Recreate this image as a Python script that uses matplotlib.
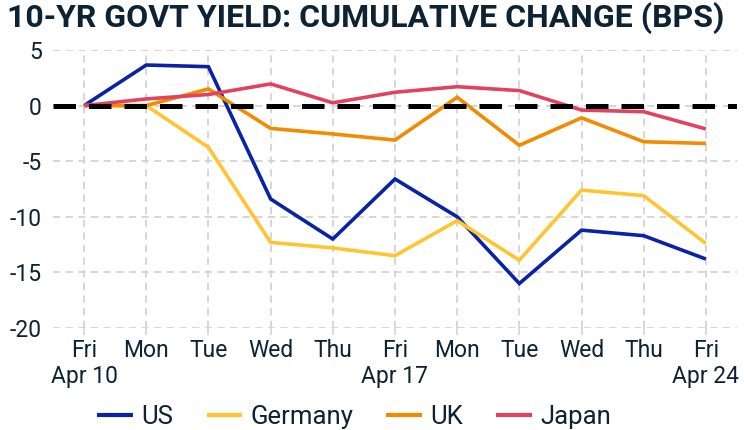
import matplotlib
matplotlib.use("Agg")
from matplotlib import pyplot as plt

plt.rcParams["font.family"] = ["Roboto", "DejaVu Sans"]

# Données (variation cumulée en points de base)
JOURS = ["Fri\nApr 10", "Mon", "Tue", "Wed", "Thu", "Fri\nApr 17",
         "Mon", "Tue", "Wed", "Thu", "Fri\nApr 24"]
US = [0, 3.65, 3.5, -8.4, -12.0, -6.6, -10.0, -16.0, -11.2, -11.7, -13.8]
GERMANY = [0, 0, -3.75, -12.3, -12.8, -13.5, -10.35, -13.9, -7.6, -8.1, -12.4]
UK = [0, 0, 1.5, -2.05, -2.55, -3.1, 0.75, -3.57, -1.1, -3.25, -3.4]
JAPAN = [0, 0.6, 1.0, 1.95, 0.25, 1.2, 1.7, 1.35, -0.4, -0.55, -2.1]
Y_TICKS = [5, 0, -5, -10, -15, -20]

SERIES = [
    ("US", US, "#0a22a5"),
    ("Germany", GERMANY, "#ffc530"),
    ("UK", UK, "#f28b00"),
    ("Japan", JAPAN, "#e3425f"),
]

TEXT_COLOR = "#0d2233"
GRID_COLOR = "#d3d3d3"

fig = plt.figure(figsize=(7.44, 4.30), dpi=100)
ax = fig.add_axes([0.0712, 0.2372, 0.9194, 0.6465])

x = list(range(len(JOURS)))
for nom, valeurs, couleur in SERIES:
    ax.plot(x, valeurs, color=couleur, lw=2.6, label=nom, zorder=3,
            solid_capstyle="butt", solid_joinstyle="miter")

# Ligne zéro en pointillés noirs
ax.axhline(0, color="black", lw=3.6, dashes=(4.5, 2.6), zorder=4)

ax.set_xlim(-0.5, len(JOURS) - 0.5)
ax.set_ylim(-20, 5)
ax.set_xticks(x)
ax.set_xticklabels(JOURS, fontsize=16.5, color=TEXT_COLOR, linespacing=1.15)
ax.set_yticks(Y_TICKS)
ax.set_yticklabels([str(v) for v in Y_TICKS], fontsize=16.5, color=TEXT_COLOR)

ax.grid(True, color=GRID_COLOR, linestyle=(0, (4, 3)), lw=1.3, zorder=0)
for spine in ax.spines.values():
    spine.set_visible(False)
ax.tick_params(axis="x", length=5, color=GRID_COLOR, width=1.2, pad=3)
ax.tick_params(axis="y", length=0, pad=8)

fig.text(0.01, 0.995, "10-YR GOVT YIELD: CUMULATIVE CHANGE (BPS)",
         fontsize=23, fontweight="bold", color=TEXT_COLOR, ha="left", va="top")

leg = fig.legend(loc="center", bbox_to_anchor=(0.476, 0.03), ncol=4, frameon=False,
                 fontsize=18.5, handlelength=1.4, handletextpad=0.3, columnspacing=1.3,
                 labelcolor=TEXT_COLOR)
for ligne in leg.get_lines():
    ligne.set_linewidth(3.0)

fig.savefig("out.png", dpi=100)
